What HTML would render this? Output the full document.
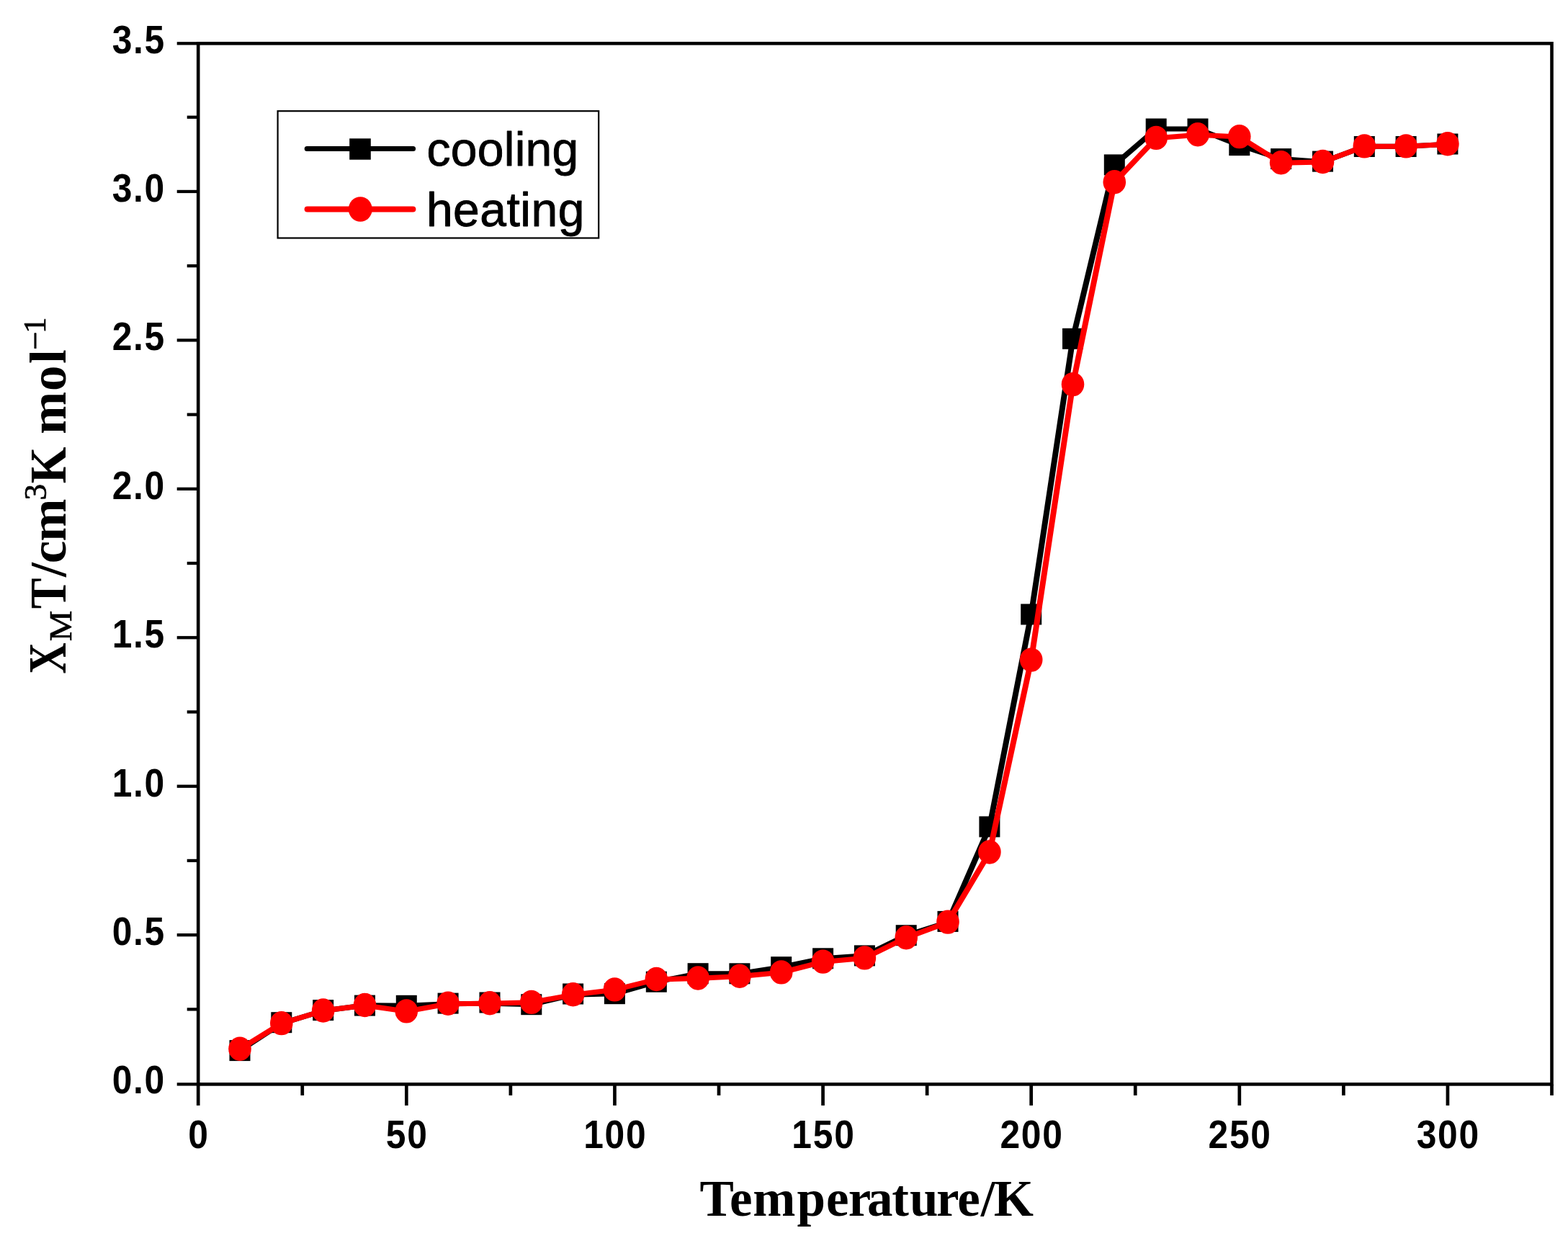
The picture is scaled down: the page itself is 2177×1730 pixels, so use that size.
<!DOCTYPE html>
<html lang="en"><head><meta charset="utf-8"><title>XMT/cm3K mol−1 vs Temperature/K</title>
<style>html,body{margin:0;padding:0;background:#fff;}body{width:2177px;height:1730px;overflow:hidden;}svg{display:block;}.tk{font-family:"Liberation Sans",Arial,sans-serif;font-weight:700;font-size:56px;letter-spacing:1.93px;fill:#000;}.lg{font-family:"Liberation Sans",Arial,sans-serif;font-weight:400;font-size:66px;fill:#000;stroke:#000;stroke-width:0.9px;stroke-linejoin:round;}.ti{font-family:"Liberation Serif","Times New Roman",serif;font-weight:700;font-size:71px;fill:#000;}.tr{font-family:"Liberation Serif","Times New Roman",serif;font-weight:400;font-size:45.2px;fill:#000;stroke:#000;stroke-width:0.7px;stroke-linejoin:round;}</style></head><body>
<svg width="2177" height="1730" viewBox="0 0 2177 1730">
<rect x="0" y="0" width="2177" height="1730" fill="#ffffff"/>
<g stroke="#000" stroke-width="4.6" fill="none" stroke-linecap="butt">
<rect x="275.20" y="60.30" width="1879.30" height="1445.10"/>
<g stroke-width="4.3">
<line x1="245.70" y1="1505.40" x2="275.20" y2="1505.40"/>
<line x1="259.70" y1="1401.38" x2="275.20" y2="1401.38"/>
<line x1="245.70" y1="1298.16" x2="275.20" y2="1298.16"/>
<line x1="259.70" y1="1194.94" x2="275.20" y2="1194.94"/>
<line x1="245.70" y1="1091.71" x2="275.20" y2="1091.71"/>
<line x1="259.70" y1="988.49" x2="275.20" y2="988.49"/>
<line x1="245.70" y1="885.27" x2="275.20" y2="885.27"/>
<line x1="259.70" y1="782.05" x2="275.20" y2="782.05"/>
<line x1="245.70" y1="678.83" x2="275.20" y2="678.83"/>
<line x1="259.70" y1="575.61" x2="275.20" y2="575.61"/>
<line x1="245.70" y1="472.39" x2="275.20" y2="472.39"/>
<line x1="259.70" y1="369.16" x2="275.20" y2="369.16"/>
<line x1="245.70" y1="265.94" x2="275.20" y2="265.94"/>
<line x1="259.70" y1="162.72" x2="275.20" y2="162.72"/>
<line x1="245.70" y1="60.30" x2="275.20" y2="60.30"/>
<line x1="275.20" y1="1505.40" x2="275.20" y2="1534.90" stroke-width="4.7"/>
<line x1="419.76" y1="1505.40" x2="419.76" y2="1520.90" stroke-width="4.7"/>
<line x1="564.32" y1="1505.40" x2="564.32" y2="1534.90" stroke-width="4.7"/>
<line x1="708.88" y1="1505.40" x2="708.88" y2="1520.90" stroke-width="4.7"/>
<line x1="853.45" y1="1505.40" x2="853.45" y2="1534.90" stroke-width="4.7"/>
<line x1="998.01" y1="1505.40" x2="998.01" y2="1520.90" stroke-width="4.7"/>
<line x1="1142.57" y1="1505.40" x2="1142.57" y2="1534.90" stroke-width="4.7"/>
<line x1="1287.13" y1="1505.40" x2="1287.13" y2="1520.90" stroke-width="4.7"/>
<line x1="1431.69" y1="1505.40" x2="1431.69" y2="1534.90" stroke-width="4.7"/>
<line x1="1576.25" y1="1505.40" x2="1576.25" y2="1520.90" stroke-width="4.7"/>
<line x1="1720.82" y1="1505.40" x2="1720.82" y2="1534.90" stroke-width="4.7"/>
<line x1="1865.38" y1="1505.40" x2="1865.38" y2="1520.90" stroke-width="4.7"/>
<line x1="2009.94" y1="1505.40" x2="2009.94" y2="1534.90" stroke-width="4.7"/>
<line x1="2154.50" y1="1505.40" x2="2154.50" y2="1520.90" stroke-width="4.7"/>
</g>
</g>
<g class="tk" text-anchor="end">
<text transform="translate(230.02 1517.70) scale(0.889 1)" x="0" y="0">0.0</text>
<text transform="translate(230.02 1312.16) scale(0.889 1)" x="0" y="0">0.5</text>
<text transform="translate(230.02 1105.71) scale(0.889 1)" x="0" y="0">1.0</text>
<text transform="translate(230.02 899.27) scale(0.889 1)" x="0" y="0">1.5</text>
<text transform="translate(230.02 692.83) scale(0.889 1)" x="0" y="0">2.0</text>
<text transform="translate(230.02 486.39) scale(0.889 1)" x="0" y="0">2.5</text>
<text transform="translate(230.02 279.94) scale(0.889 1)" x="0" y="0">3.0</text>
<text transform="translate(230.02 73.50) scale(0.889 1)" x="0" y="0">3.5</text>
</g>
<g class="tk" text-anchor="middle">
<text transform="translate(276.06 1594.30) scale(0.889 1)" x="0" y="0">0</text>
<text transform="translate(565.18 1594.30) scale(0.889 1)" x="0" y="0">50</text>
<text transform="translate(854.30 1594.30) scale(0.889 1)" x="0" y="0">100</text>
<text transform="translate(1143.43 1594.30) scale(0.889 1)" x="0" y="0">150</text>
<text transform="translate(1432.55 1594.30) scale(0.889 1)" x="0" y="0">200</text>
<text transform="translate(1721.67 1594.30) scale(0.889 1)" x="0" y="0">250</text>
<text transform="translate(2010.80 1594.30) scale(0.889 1)" x="0" y="0">300</text>
</g>
<g>
<g fill="none" stroke="#000000" stroke-linecap="round">
<line x1="333.0" y1="1458.6" x2="390.8" y2="1421.0" stroke-width="7.37"/>
<line x1="390.8" y1="1421.0" x2="448.7" y2="1403.4" stroke-width="7.18"/>
<line x1="448.7" y1="1403.4" x2="506.5" y2="1395.9" stroke-width="7.11"/>
<line x1="506.5" y1="1395.9" x2="564.3" y2="1396.3" stroke-width="7.10"/>
<line x1="564.3" y1="1396.3" x2="622.1" y2="1393.7" stroke-width="7.10"/>
<line x1="622.1" y1="1393.7" x2="680.0" y2="1393.2" stroke-width="7.10"/>
<line x1="680.0" y1="1393.2" x2="737.8" y2="1394.7" stroke-width="7.10"/>
<line x1="737.8" y1="1394.7" x2="795.6" y2="1381.2" stroke-width="7.15"/>
<line x1="795.6" y1="1381.2" x2="853.4" y2="1379.7" stroke-width="7.10"/>
<line x1="853.4" y1="1379.7" x2="911.3" y2="1363.2" stroke-width="7.17"/>
<line x1="911.3" y1="1363.2" x2="969.1" y2="1351.7" stroke-width="7.13"/>
<line x1="969.1" y1="1351.7" x2="1026.9" y2="1351.8" stroke-width="7.10"/>
<line x1="1026.9" y1="1351.8" x2="1084.7" y2="1342.7" stroke-width="7.12"/>
<line x1="1084.7" y1="1342.7" x2="1142.6" y2="1330.8" stroke-width="7.14"/>
<line x1="1142.6" y1="1330.8" x2="1200.4" y2="1326.9" stroke-width="7.10"/>
<line x1="1200.4" y1="1326.9" x2="1258.2" y2="1298.7" stroke-width="7.27"/>
<line x1="1258.2" y1="1298.7" x2="1316.0" y2="1280.5" stroke-width="7.18"/>
<line x1="1316.0" y1="1280.5" x2="1373.9" y2="1147.9" stroke-width="7.86"/>
<line x1="1373.9" y1="1147.9" x2="1431.7" y2="853.0" stroke-width="7.97"/>
<line x1="1431.7" y1="853.0" x2="1489.5" y2="470.3" stroke-width="7.98"/>
<line x1="1489.5" y1="470.3" x2="1547.3" y2="228.9" stroke-width="7.95"/>
<line x1="1547.3" y1="228.9" x2="1605.2" y2="179.0" stroke-width="7.48"/>
<line x1="1605.2" y1="179.0" x2="1663.0" y2="179.0" stroke-width="7.10"/>
<line x1="1663.0" y1="179.0" x2="1720.8" y2="201.6" stroke-width="7.22"/>
<line x1="1720.8" y1="201.6" x2="1778.6" y2="220.6" stroke-width="7.19"/>
<line x1="1778.6" y1="220.6" x2="1836.5" y2="224.9" stroke-width="7.10"/>
<line x1="1836.5" y1="224.9" x2="1894.3" y2="203.3" stroke-width="7.21"/>
<line x1="1894.3" y1="203.3" x2="1952.1" y2="203.3" stroke-width="7.10"/>
<line x1="1952.1" y1="203.3" x2="2009.9" y2="200.2" stroke-width="7.10"/>
</g>
<rect x="318.5" y="1444.1" width="29" height="29" fill="#000"/>
<rect x="376.3" y="1405.2" width="29" height="29" fill="#000"/>
<rect x="434.2" y="1388.1" width="29" height="29" fill="#000"/>
<rect x="492.0" y="1381.6" width="29" height="29" fill="#000"/>
<rect x="549.8" y="1381.8" width="29" height="29" fill="#000"/>
<rect x="607.6" y="1378.6" width="29" height="29" fill="#000"/>
<rect x="665.5" y="1377.5" width="29" height="29" fill="#000"/>
<rect x="723.3" y="1380.2" width="29" height="29" fill="#000"/>
<rect x="781.1" y="1365.5" width="29" height="29" fill="#000"/>
<rect x="838.9" y="1365.2" width="29" height="29" fill="#000"/>
<rect x="896.8" y="1348.7" width="29" height="29" fill="#000"/>
<rect x="954.6" y="1337.2" width="29" height="29" fill="#000"/>
<rect x="1012.4" y="1337.3" width="29" height="29" fill="#000"/>
<rect x="1070.2" y="1328.2" width="29" height="29" fill="#000"/>
<rect x="1128.1" y="1316.3" width="29" height="29" fill="#000"/>
<rect x="1185.9" y="1312.4" width="29" height="29" fill="#000"/>
<rect x="1243.7" y="1284.2" width="29" height="29" fill="#000"/>
<rect x="1301.5" y="1264.9" width="29" height="29" fill="#000"/>
<rect x="1359.4" y="1133.4" width="29" height="29" fill="#000"/>
<rect x="1417.2" y="838.5" width="29" height="29" fill="#000"/>
<rect x="1475.0" y="455.8" width="29" height="29" fill="#000"/>
<rect x="1532.8" y="214.4" width="29" height="29" fill="#000"/>
<rect x="1590.7" y="164.5" width="29" height="29" fill="#000"/>
<rect x="1648.5" y="164.5" width="29" height="29" fill="#000"/>
<rect x="1706.3" y="187.1" width="29" height="29" fill="#000"/>
<rect x="1764.1" y="206.1" width="29" height="29" fill="#000"/>
<rect x="1822.0" y="209.6" width="29" height="29" fill="#000"/>
<rect x="1879.8" y="189.0" width="29" height="29" fill="#000"/>
<rect x="1937.6" y="189.0" width="29" height="29" fill="#000"/>
<rect x="1995.4" y="185.5" width="29" height="29" fill="#000"/>
</g>
<g>
<g fill="none" stroke="#ff0000" stroke-linecap="round">
<line x1="333.0" y1="1456.7" x2="390.8" y2="1421.0" stroke-width="7.35"/>
<line x1="390.8" y1="1421.0" x2="448.7" y2="1403.4" stroke-width="7.18"/>
<line x1="448.7" y1="1403.4" x2="506.5" y2="1395.9" stroke-width="7.11"/>
<line x1="506.5" y1="1395.9" x2="564.3" y2="1404.3" stroke-width="7.12"/>
<line x1="564.3" y1="1404.3" x2="622.1" y2="1393.7" stroke-width="7.13"/>
<line x1="622.1" y1="1393.7" x2="680.0" y2="1393.2" stroke-width="7.10"/>
<line x1="680.0" y1="1393.2" x2="737.8" y2="1391.8" stroke-width="7.10"/>
<line x1="737.8" y1="1391.8" x2="795.6" y2="1381.2" stroke-width="7.13"/>
<line x1="795.6" y1="1381.2" x2="853.4" y2="1374.3" stroke-width="7.11"/>
<line x1="853.4" y1="1374.3" x2="911.3" y2="1359.9" stroke-width="7.15"/>
<line x1="911.3" y1="1359.9" x2="969.1" y2="1358.4" stroke-width="7.10"/>
<line x1="969.1" y1="1358.4" x2="1026.9" y2="1355.6" stroke-width="7.10"/>
<line x1="1026.9" y1="1355.6" x2="1084.7" y2="1350.3" stroke-width="7.11"/>
<line x1="1084.7" y1="1350.3" x2="1142.6" y2="1335.5" stroke-width="7.16"/>
<line x1="1142.6" y1="1335.5" x2="1200.4" y2="1330.3" stroke-width="7.11"/>
<line x1="1200.4" y1="1330.3" x2="1258.2" y2="1302.1" stroke-width="7.27"/>
<line x1="1258.2" y1="1302.1" x2="1316.0" y2="1280.5" stroke-width="7.21"/>
<line x1="1316.0" y1="1280.5" x2="1373.9" y2="1183.4" stroke-width="7.76"/>
<line x1="1373.9" y1="1183.4" x2="1431.7" y2="916.5" stroke-width="7.96"/>
<line x1="1431.7" y1="916.5" x2="1489.5" y2="534.0" stroke-width="7.98"/>
<line x1="1489.5" y1="534.0" x2="1547.3" y2="253.1" stroke-width="7.96"/>
<line x1="1547.3" y1="253.1" x2="1605.2" y2="191.8" stroke-width="7.58"/>
<line x1="1605.2" y1="191.8" x2="1663.0" y2="187.2" stroke-width="7.11"/>
<line x1="1663.0" y1="187.2" x2="1720.8" y2="190.0" stroke-width="7.10"/>
<line x1="1720.8" y1="190.0" x2="1778.6" y2="226.2" stroke-width="7.35"/>
<line x1="1778.6" y1="226.2" x2="1836.5" y2="224.9" stroke-width="7.10"/>
<line x1="1836.5" y1="224.9" x2="1894.3" y2="203.3" stroke-width="7.21"/>
<line x1="1894.3" y1="203.3" x2="1952.1" y2="203.3" stroke-width="7.10"/>
<line x1="1952.1" y1="203.3" x2="2009.9" y2="200.2" stroke-width="7.10"/>
</g>
<ellipse cx="333.0" cy="1456.3" rx="15.8" ry="16.7" fill="#ff0000"/>
<ellipse cx="390.8" cy="1420.6" rx="15.8" ry="16.7" fill="#ff0000"/>
<ellipse cx="448.7" cy="1403.0" rx="15.8" ry="16.7" fill="#ff0000"/>
<ellipse cx="506.5" cy="1395.5" rx="15.8" ry="16.7" fill="#ff0000"/>
<ellipse cx="564.3" cy="1403.9" rx="15.8" ry="16.7" fill="#ff0000"/>
<ellipse cx="622.1" cy="1393.3" rx="15.8" ry="16.7" fill="#ff0000"/>
<ellipse cx="680.0" cy="1392.8" rx="15.8" ry="16.7" fill="#ff0000"/>
<ellipse cx="737.8" cy="1391.4" rx="15.8" ry="16.7" fill="#ff0000"/>
<ellipse cx="795.6" cy="1380.8" rx="15.8" ry="16.7" fill="#ff0000"/>
<ellipse cx="853.4" cy="1373.9" rx="15.8" ry="16.7" fill="#ff0000"/>
<ellipse cx="911.3" cy="1359.5" rx="15.8" ry="16.7" fill="#ff0000"/>
<ellipse cx="969.1" cy="1358.0" rx="15.8" ry="16.7" fill="#ff0000"/>
<ellipse cx="1026.9" cy="1355.2" rx="15.8" ry="16.7" fill="#ff0000"/>
<ellipse cx="1084.7" cy="1349.9" rx="15.8" ry="16.7" fill="#ff0000"/>
<ellipse cx="1142.6" cy="1335.1" rx="15.8" ry="16.7" fill="#ff0000"/>
<ellipse cx="1200.4" cy="1329.9" rx="15.8" ry="16.7" fill="#ff0000"/>
<ellipse cx="1258.2" cy="1301.7" rx="15.8" ry="16.7" fill="#ff0000"/>
<ellipse cx="1316.0" cy="1280.1" rx="15.8" ry="16.7" fill="#ff0000"/>
<ellipse cx="1373.9" cy="1183.0" rx="15.8" ry="16.7" fill="#ff0000"/>
<ellipse cx="1431.7" cy="916.1" rx="15.8" ry="16.7" fill="#ff0000"/>
<ellipse cx="1489.5" cy="533.6" rx="15.8" ry="16.7" fill="#ff0000"/>
<ellipse cx="1547.3" cy="252.7" rx="15.8" ry="16.7" fill="#ff0000"/>
<ellipse cx="1605.2" cy="191.4" rx="15.8" ry="16.7" fill="#ff0000"/>
<ellipse cx="1663.0" cy="186.8" rx="15.8" ry="16.7" fill="#ff0000"/>
<ellipse cx="1720.8" cy="189.6" rx="15.8" ry="16.7" fill="#ff0000"/>
<ellipse cx="1778.6" cy="225.8" rx="15.8" ry="16.7" fill="#ff0000"/>
<ellipse cx="1836.5" cy="224.5" rx="15.8" ry="16.7" fill="#ff0000"/>
<ellipse cx="1894.3" cy="202.9" rx="15.8" ry="16.7" fill="#ff0000"/>
<ellipse cx="1952.1" cy="202.9" rx="15.8" ry="16.7" fill="#ff0000"/>
<ellipse cx="2009.9" cy="199.8" rx="15.8" ry="16.7" fill="#ff0000"/>
</g>
<rect x="385.6" y="154.2" width="445.6" height="176.3" fill="#fff" stroke="#000" stroke-width="2.2"/>
<line x1="426.2" y1="206.4" x2="573.6" y2="206.4" stroke="#000" stroke-width="7" stroke-linecap="round"/>
<rect x="485.2" y="192.3" width="29.6" height="29.4" fill="#000"/>
<line x1="426.6" y1="290.6" x2="573.4" y2="290.6" stroke="#ff0000" stroke-width="8" stroke-linecap="round"/>
<ellipse cx="500.3" cy="290.5" rx="16.5" ry="17.3" fill="#ff0000"/>
<text class="lg" x="592.6" y="230.3" style="letter-spacing:0.25px">cooling</text>
<text class="lg" x="591.9" y="314.4" style="letter-spacing:0.5px">heating</text>
<text class="ti" x="971.4 1013.0 1045.3 1106.6 1147.1 1177.8 1204.0 1238.2 1263.1 1300.0 1329.2 1361.8 1379.7" y="1687.8">Temperature/K</text>
<g transform="translate(91.30 935) rotate(-90)">
<text class="ti" transform="translate(-0.86 0.00) scale(0.85 1.05)" x="0" y="0">X</text><text class="tr" transform="translate(44.81 8.00) scale(1.06 1)" x="0" y="0">M</text><text class="ti" transform="translate(89.63 0.00) scale(0.9 1)" x="0" y="0">T</text><text class="ti" x="134.1 152.8 183.3" y="0.0 0.0 0.0">/cm</text><text class="tr" x="240.4" y="-27.6">3</text><text class="ti" transform="translate(263.77 0.00) scale(0.92 1)" x="0" y="0">K </text><text class="ti" x="331.9 391.9 429.9" y="0.0 0.0 0.0">mol</text><text class="tr" x="449.3 471.9" y="-27.1 -28.1">−1</text>
</g>
</svg></body></html>
